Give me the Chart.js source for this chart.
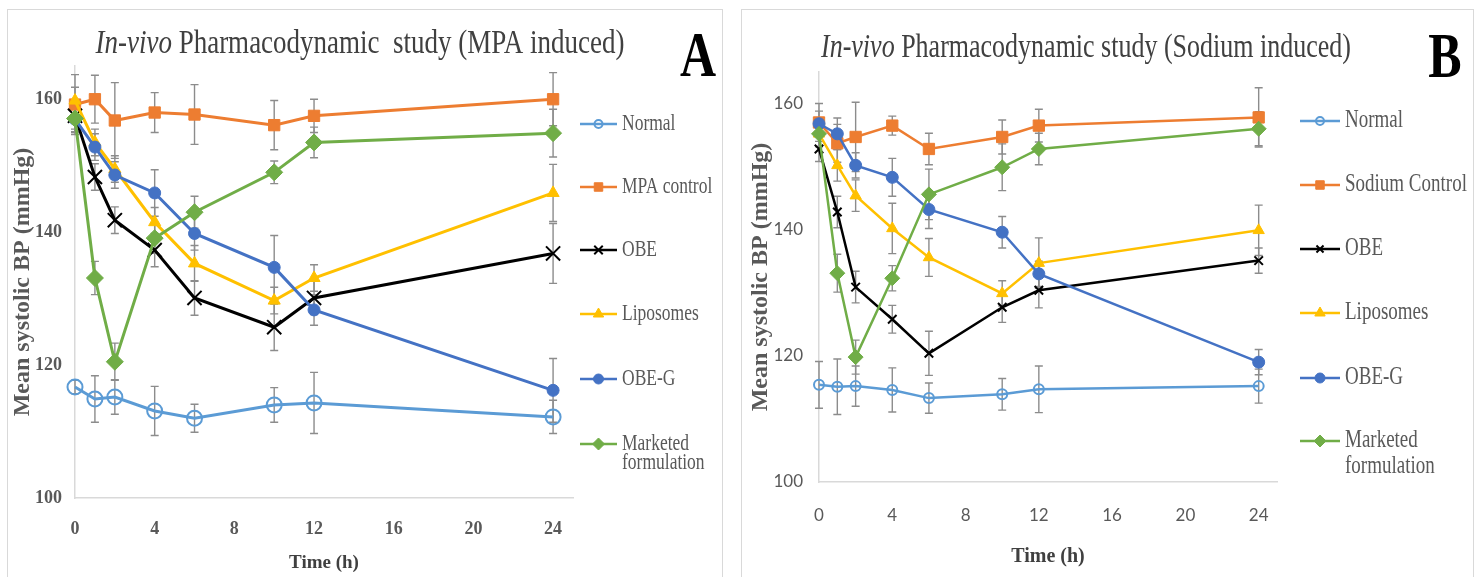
<!DOCTYPE html>
<html>
<head>
<meta charset="utf-8">
<script src="https://cdn.jsdelivr.net/npm/chart.js@4.4.1/dist/chart.umd.min.js"></script>
<style>
  html, body { margin: 0; padding: 0; background: #fff; }
  body { width: 1482px; height: 577px; position: relative; overflow: hidden; }
  .panel { position: absolute; border: 1px solid #d9d9d9; box-sizing: border-box; }
  canvas { position: absolute; }
</style>
</head>
<body>
<div class="panel" style="left:7px;top:9px;width:716px;height:600px"></div>
<div class="panel" style="left:741px;top:9px;width:733px;height:600px"></div>
<canvas id="chartA" width="713" height="567" style="left:8px;top:10px"></canvas>
<canvas id="chartB" width="730" height="567" style="left:742px;top:10px"></canvas>
<script>
// ---- data ----
const timeHours = [0, 1, 2, 4, 6, 10, 12, 24];
const xTicks = [0, 4, 8, 12, 16, 20, 24];
const yTicks = [100, 120, 140, 160];

const seriesNamesA = ['Normal', 'MPA control', 'OBE', 'Liposomes', 'OBE-G', 'Marketed formulation'];
const seriesNamesB = ['Normal', 'Sodium Control', 'OBE', 'Liposomes', 'OBE-G', 'Marketed formulation'];

// Panel A - MPA induced
const normalA      = [116.7, 114.9, 115.2, 113.1, 112.0, 114.0, 114.3, 112.2];
const mpaControlA  = [159.2, 160.0, 156.8, 158.0, 157.7, 156.1, 157.5, 160.0];
const obeA         = [157.5, 148.3, 141.8, 137.3, 130.1, 125.7, 130.1, 136.8];
const liposomesA   = [159.8, 153.5, 149.5, 141.5, 135.3, 129.7, 133.1, 145.9];
const obeGA        = [157.0, 152.8, 148.6, 145.9, 139.8, 134.7, 128.3, 116.2];
const marketedA    = [157.1, 133.1, 120.5, 139.1, 143.0, 149.0, 153.5, 154.9];

const normalAErr     = [1.0, 3.5, 2.6, 3.7, 2.1, 2.6, 4.6, 2.5];
const mpaControlAErr = [4.5, 3.6, 5.7, 3.0, 4.5, 3.7, 2.5, 4.0];
const obeAErr        = [2.0, 2.0, 2.0, 2.5, 2.6, 3.5, 2.5, 4.5];
const liposomesAErr  = [2.0, 2.0, 2.0, 2.2, 2.7, 2.0, 2.0, 4.3];
const obeGAErr       = [2.0, 2.0, 2.0, 3.5, 2.5, 4.8, 2.3, 4.8];
const marketedAErr   = [2.0, 2.5, 2.8, 2.3, 2.4, 1.7, 2.3, 3.6];

// Panel B - Sodium induced
const normalB        = [115.4, 115.1, 115.2, 114.6, 113.3, 113.9, 114.7, 115.2];
const sodiumControlB = [157.0, 153.7, 154.7, 156.5, 152.8, 154.7, 156.5, 157.8];
const obeB           = [152.8, 142.8, 130.9, 125.8, 120.4, 127.7, 130.4, 135.1];
const liposomesB     = [155.2, 150.2, 145.4, 140.2, 135.6, 129.9, 134.7, 139.9];
const obeGB          = [156.8, 155.2, 150.2, 148.3, 143.2, 139.6, 133.0, 119.0];
const marketedB      = [155.2, 133.1, 119.8, 132.3, 145.6, 149.9, 152.8, 156.0];

const normalBErr        = [3.7, 4.4, 3.2, 3.5, 2.4, 2.5, 3.7, 2.7];
const sodiumControlBErr = [3.0, 3.0, 5.5, 1.5, 2.5, 2.7, 2.6, 4.7];
const obeBErr           = [2.0, 2.5, 2.5, 2.2, 3.5, 2.4, 2.8, 2.0];
const liposomesBErr     = [2.0, 2.5, 2.5, 4.0, 3.0, 2.0, 4.0, 4.0];
const obeGBErr          = [2.0, 2.5, 2.0, 3.0, 3.0, 2.5, 2.0, 2.0];
const marketedBErr      = [2.0, 3.0, 2.7, 2.0, 4.0, 3.7, 2.5, 2.7];

// ---- styles ----
const SERIF = '"Liberation Serif", "Times New Roman", serif';
const STRETCH = 1.28; // the figure is stretched vertically a bit

const markerStyles = [
  { color: '#5B9BD5', fill: 'rgba(255,255,255,0)', pointStyle: 'circle' },
  { color: '#ED7D31', fill: '#ED7D31', pointStyle: 'rect' },
  { color: '#000000', fill: '#000000', pointStyle: 'crossRot' },
  { color: '#FFC000', fill: '#FFC000', pointStyle: 'triangle' },
  { color: '#4472C4', fill: '#4472C4', pointStyle: 'circle' },
  { color: '#70AD47', fill: '#70AD47', pointStyle: 'rectRot' }
];

function toPoints(values){
  return values.map((v, i) => ({ x: timeHours[i], y: v }));
}

function buildDatasets(names, values, errs, radii, lineWidth){
  return names.map((name, i) => ({
    label: name,
    data: toPoints(values[i]),
    errorBars: errs[i],
    borderColor: markerStyles[i].color,
    backgroundColor: markerStyles[i].fill,
    pointStyle: markerStyles[i].pointStyle,
    pointRadius: radii[i],
    pointBorderWidth: i === 0 || i === 2 ? 2 : 1,
    pointBorderColor: markerStyles[i].color,
    pointBackgroundColor: markerStyles[i].fill,
    borderWidth: lineWidth,
    tension: 0,
    clip: false,
    order: names.length - i
  }));
}

function stretchText(ctx, text, x, y, font, align, color){
  ctx.save();
  ctx.translate(x, y);
  ctx.scale(1, STRETCH);
  ctx.font = font;
  ctx.textAlign = align;
  ctx.textBaseline = 'middle';
  ctx.fillStyle = color;
  ctx.fillText(text, 0, 0);
  ctx.restore();
}

// error bars drawn with the chart's own scales
const errorBarPlugin = {
  id: 'errorBars',
  beforeDatasetsDraw(chart){
    const ctx = chart.ctx;
    const xs = chart.scales.x, ys = chart.scales.y;
    ctx.save();
    ctx.strokeStyle = '#8c8c8c';
    ctx.lineWidth = 1.4;
    chart.data.datasets.forEach(ds => {
      if (!ds.errorBars) return;
      ds.data.forEach((p, i) => {
        const e = ds.errorBars[i];
        if (!e) return;
        const x = xs.getPixelForValue(p.x);
        const y1 = ys.getPixelForValue(p.y + e);
        const y2 = ys.getPixelForValue(p.y - e);
        ctx.beginPath();
        ctx.moveTo(x, y1); ctx.lineTo(x, y2);
        ctx.moveTo(x - 4, y1); ctx.lineTo(x + 4, y1);
        ctx.moveTo(x - 4, y2); ctx.lineTo(x + 4, y2);
        ctx.stroke();
      });
    });
    ctx.restore();
  }
};

// title, panel letter and legend
const panelTextPlugin = {
  id: 'panelText',
  afterDraw(chart, args, o){
    const ctx = chart.ctx;
    ctx.save();
    const fI = 'italic ' + o.titleSize + 'px ' + SERIF;
    const fR = o.titleSize + 'px ' + SERIF;
    ctx.font = fI; const w1 = ctx.measureText(o.titleItalic).width;
    ctx.font = fR; const w2 = ctx.measureText(o.titleRest).width;
    const x0 = o.titleX - (w1 + w2) / 2;
    stretchText(ctx, o.titleItalic, x0, o.titleY, fI, 'left', '#404040');
    stretchText(ctx, o.titleRest, x0 + w1, o.titleY, fR, 'left', '#404040');

    stretchText(ctx, o.letter, o.letterX, o.letterY, 'bold ' + o.letterSize + 'px ' + SERIF, 'center', '#000000');

    const legFont = o.legendSize + 'px ' + SERIF;
    chart.data.datasets.forEach((ds, i) => {
      const y = o.legendY[i];
      ctx.strokeStyle = ds.borderColor;
      ctx.lineWidth = 2.5;
      ctx.beginPath();
      ctx.moveTo(o.legendX1, y); ctx.lineTo(o.legendX2, y);
      ctx.stroke();
      ctx.fillStyle = ds.pointBackgroundColor;
      ctx.strokeStyle = ds.pointBorderColor;
      ctx.lineWidth = ds.pointBorderWidth;
      Chart.helpers.drawPoint(ctx, {
        pointStyle: ds.pointStyle, radius: o.legendRadius[i], rotation: 0, borderWidth: ds.pointBorderWidth
      }, (o.legendX1 + o.legendX2) / 2, y);
      const words = ds.label === 'Marketed formulation' ? ['Marketed', 'formulation'] : [ds.label];
      words.forEach((w, k) => {
        stretchText(ctx, w, o.legendTextX, y + k * o.legendLineGap, legFont, 'left', '#595959');
      });
    });
    ctx.restore();
  }
};

function makeChart(id, cfg){
  const tickFont = cfg.tickFont;
  return new Chart(document.getElementById(id), {
    type: 'line',
    data: { datasets: cfg.datasets },
    plugins: [errorBarPlugin, panelTextPlugin],
    options: {
      responsive: false,
      animation: false,
      events: [],
      layout: { padding: { top: cfg.padTop, right: cfg.padRight, bottom: 0, left: 0 } },
      plugins: {
        legend: { display: false },
        tooltip: { enabled: false },
        panelText: cfg.text
      },
      scales: {
        x: {
          type: 'linear', min: 0, max: 25,
          grid: { display: false, drawTicks: false },
          border: { display: true, color: '#d9d9d9', width: 1.5 },
          ticks: { stepSize: 4, padding: cfg.xTickPad, color: '#595959', font: tickFont, maxRotation: 0 },
          afterBuildTicks: s => { s.ticks = xTicks.map(v => ({ value: v })); },
          afterFit: s => { s.height = cfg.xHeight; },
          title: { display: true, text: 'Time (h)', color: '#404040',
                   font: { family: SERIF, size: cfg.xTitleSize, weight: 'bold' },
                   padding: { top: 0, bottom: cfg.xTitlePad } }
        },
        y: {
          min: 100, max: 165,
          grid: { display: false, drawTicks: false },
          border: { display: true, color: '#d9d9d9', width: 1.5 },
          ticks: { stepSize: 20, padding: cfg.yTickPad, color: '#595959', font: tickFont },
          afterBuildTicks: s => { s.ticks = yTicks.map(v => ({ value: v })); },
          afterFit: s => { s.width = cfg.yWidth; },
          title: { display: true, text: 'Mean systolic BP (mmHg)', color: '#595959',
                   font: { family: SERIF, size: 24, weight: 'bold' },
                   padding: { top: cfg.yTitlePad, bottom: 0 } }
        }
      }
    }
  });
}

makeChart('chartA', {
  datasets: buildDatasets(seriesNamesA,
    [normalA, mpaControlA, obeA, liposomesA, obeGA, marketedA],
    [normalAErr, mpaControlAErr, obeAErr, liposomesAErr, obeGAErr, marketedAErr],
    [7.5, 8, 10, 7, 6, 8.5], 3),
  padTop: 56, padRight: 148, xHeight: 79, yWidth: 67,
  xTickPad: 21, yTickPad: 13, xTitleSize: 19, xTitlePad: 3, yTitlePad: 0,
  tickFont: { family: SERIF, size: 18, weight: 'bold' },
  text: {
    titleItalic: 'In-vivo', titleRest: ' Pharmacodynamic  study (MPA induced)', titleSize: 27,
    titleX: 352, titleY: 34,
    letter: 'A', letterX: 690, letterY: 49, letterSize: 50,
    legendX1: 572, legendX2: 609, legendTextX: 614, legendSize: 17.5, legendLineGap: 19,
    legendY: [114, 177, 240, 304, 369, 434],
    legendRadius: [4, 6, 6, 6, 5, 6]
  }
});

makeChart('chartB', {
  datasets: buildDatasets(seriesNamesB,
    [normalB, sodiumControlB, obeB, liposomesB, obeGB, marketedB],
    [normalBErr, sodiumControlBErr, obeBErr, liposomesBErr, obeGBErr, marketedBErr],
    [5, 8, 6, 6.5, 6, 7.5], 2.5),
  padTop: 62, padRight: 195, xHeight: 95, yWidth: 77,
  xTickPad: 23, yTickPad: 16, xTitleSize: 20, xTitlePad: 8, yTitlePad: 4,
  tickFont: { family: 'Lato, "Open Sans", sans-serif', size: 17 },
  text: {
    titleItalic: 'In-vivo', titleRest: ' Pharmacodynamic study (Sodium induced)', titleSize: 26,
    titleX: 344, titleY: 38,
    letter: 'B', letterX: 703, letterY: 50, letterSize: 50,
    legendX1: 558, legendX2: 598, legendTextX: 603, legendSize: 19, legendLineGap: 26,
    legendY: [111, 175, 239, 303, 368, 431],
    legendRadius: [4, 6, 5, 6, 5, 6]
  }
});
</script>
</body>
</html>
